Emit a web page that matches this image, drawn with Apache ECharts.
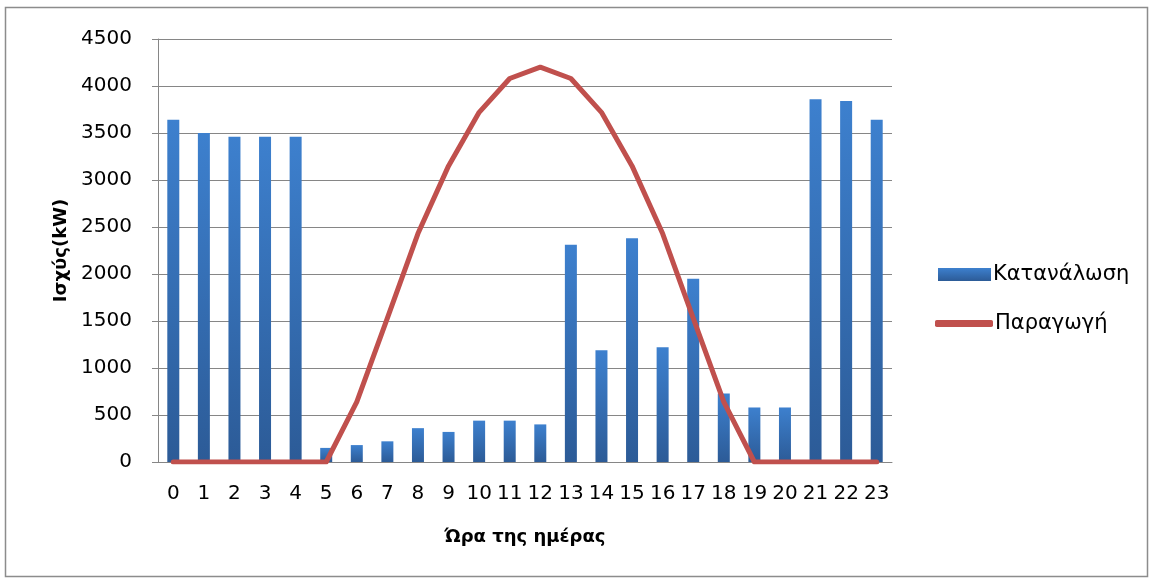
<!DOCTYPE html>
<html>
<head>
<meta charset="utf-8">
<script src="https://cdn.jsdelivr.net/npm/echarts@6/dist/echarts.min.js"></script>
<style>
html,body{margin:0;padding:0;background:#fff;}
#c{width:1153px;height:582px;}
</style>
</head>
<body>
<div id="c"></div>
<script>
var hours = ['0','1','2','3','4','5','6','7','8','9','10','11','12','13','14','15','16','17','18','19','20','21','22','23'];
var consumption = [3640,3500,3460,3460,3460,150,180,220,360,320,440,440,400,2310,1190,2380,1220,1950,730,580,580,3860,3840,3640];
var production = [0,0,0,0,0,0,640,1530,2430,3150,3720,4080,4200,4080,3720,3150,2430,1530,640,0,0,0,0,0];
var yTicks = [0,500,1000,1500,2000,2500,3000,3500,4000,4500];
var seriesNames = ['Κατανάλωση','Παραγωγή'];
var xTitle = 'Ώρα της ημέρας';
var yTitle = 'Ισχύς(kW)';

var FONT = 'DejaVu Sans';
var legendText = {fontFamily:FONT,fontSize:21,color:'#000',padding:[0,0,0,-3]};
var chart = echarts.init(document.getElementById('c'), null, {renderer:'canvas'});
chart.setOption({
  animation:false,
  backgroundColor:'#ffffff',
  graphic:[{type:'rect',shape:{x:5.5,y:7.5,width:1142,height:569},style:{fill:'none',stroke:'#8c8c8c',lineWidth:1.5},silent:true}],
  grid:{left:158,right:261,top:39,bottom:120},
  legend:[
    {orient:'vertical',left:933,top:259,itemWidth:53,itemHeight:13,
     textStyle:legendText,data:[{name:seriesNames[0],icon:'rect'}]},
    {orient:'vertical',left:930,top:308,itemWidth:58,itemHeight:7,
     textStyle:legendText,data:[{name:seriesNames[1],icon:'roundRect',itemStyle:{color:'#c0504d',borderWidth:0}}]}
  ],
  xAxis:{
    type:'category',data:hours,boundaryGap:true,
    axisLine:{lineStyle:{color:'#868686',width:1}},
    axisTick:{show:false},
    axisLabel:{interval:0,margin:22,fontFamily:FONT,fontSize:20,color:'#000'},
    name:xTitle,nameLocation:'middle',nameGap:66,
    nameTextStyle:{fontFamily:FONT,fontSize:18,fontWeight:'bold',color:'#000'}
  },
  yAxis:{
    type:'value',min:yTicks[0],max:yTicks[yTicks.length-1],interval:500,
    axisLine:{show:true,lineStyle:{color:'#868686',width:1}},
    axisTick:{show:true,inside:false,length:6,lineStyle:{color:'#868686'}},
    splitLine:{lineStyle:{color:'#868686',width:1}},
    axisLabel:{margin:26,fontFamily:FONT,fontSize:20,color:'#000',formatter:function(v){return String(v);}},
    name:yTitle,nameLocation:'middle',nameGap:84,
    nameTextStyle:{fontFamily:FONT,fontSize:18,fontWeight:'bold',color:'#000'}
  },
  series:[
    {name:seriesNames[0],type:'bar',data:consumption,barWidth:12,
     itemStyle:{color:new echarts.graphic.LinearGradient(0,0,0,1,[{offset:0,color:'#3d80ce'},{offset:1,color:'#2c5b97'}])}},
    {name:seriesNames[1],type:'line',data:production,symbol:'none',showSymbol:false,
     lineStyle:{color:'#c0504d',width:5,cap:'round',join:'round'},itemStyle:{color:'#c0504d'}}
  ]
});
</script>
</body>
</html>
